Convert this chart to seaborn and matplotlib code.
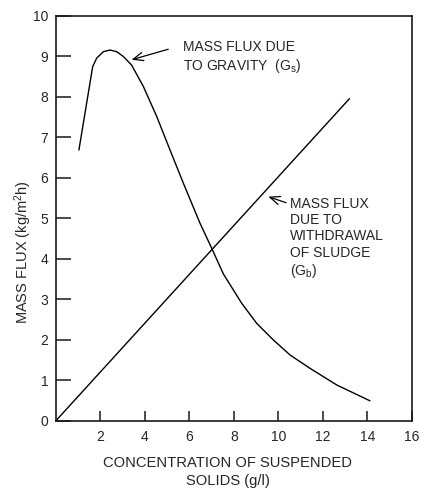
import matplotlib
matplotlib.use("Agg")
import matplotlib.pyplot as plt
import seaborn as sns
import pandas as pd

# Mass flux due to gravity, G_s (kg/m^2 h) vs solids concentration (g/l)
gravity_conc = [1.03, 1.65, 1.83, 2.13, 2.43, 2.73, 3.03, 3.40, 3.93, 4.53,
                5.13, 5.73, 6.48, 7.00, 7.53, 8.35, 9.03, 9.78, 10.53, 11.43,
                12.63, 14.12]
gravity_flux = [6.68, 8.74, 8.95, 9.11, 9.15, 9.11, 8.99, 8.78, 8.25, 7.51,
                6.68, 5.86, 4.87, 4.26, 3.62, 2.90, 2.40, 1.99, 1.62, 1.29,
                0.88, 0.49]

# Mass flux due to withdrawal of sludge, G_b
withdrawal_conc = [0.0, 13.2]
withdrawal_flux = [0.0, 7.95]

x_ticks = [2, 4, 6, 8, 10, 12, 14, 16]
y_ticks = [0, 1, 2, 3, 4, 5, 6, 7, 8, 9, 10]

sns.set_theme(style="ticks")
plt.rcParams["font.family"] = ["Liberation Sans", "DejaVu Sans"]
plt.rcParams["mathtext.fontset"] = "custom"
plt.rcParams["mathtext.rm"] = "Liberation Sans"
plt.rcParams["mathtext.it"] = "Liberation Sans"

text_color = "#262626"

fig = plt.figure(figsize=(4.21, 4.88), dpi=100)
ax = fig.add_axes([0.133, 0.138, 0.845, 0.830])

gravity = pd.DataFrame({"conc": gravity_conc, "flux": gravity_flux})
withdrawal = pd.DataFrame({"conc": withdrawal_conc, "flux": withdrawal_flux})

sns.lineplot(data=gravity, x="conc", y="flux", ax=ax, color="black",
             linewidth=1.0, sort=False)
sns.lineplot(data=withdrawal, x="conc", y="flux", ax=ax, color="black",
             linewidth=1.0, sort=False)

ax.set_xlim(0, 16)
ax.set_ylim(0, 10)
ax.set_xticks(x_ticks)
ax.set_yticks(y_ticks)
ax.set_xticklabels([str(v) for v in x_ticks])
ax.set_yticklabels([str(v) for v in y_ticks])

for side in ["left", "right", "top", "bottom"]:
    ax.spines[side].set_visible(True)
    ax.spines[side].set_linewidth(1.2)
    ax.spines[side].set_color("#1a1a1a")

ax.tick_params(axis="x", direction="in", length=7, width=1.1, pad=6.5,
               labelsize=10, colors="#1a1a1a", labelcolor=text_color)
ax.tick_params(axis="y", direction="in", length=11, width=1.1, pad=5.5,
               labelsize=10, colors="#1a1a1a", labelcolor=text_color)

ax.set_xlabel("CONCENTRATION OF SUSPENDED\nSOLIDS (g/l)", fontsize=10.6,
              color=text_color, linespacing=1.35)
ax.xaxis.set_label_coords(0.482, -0.126)
ax.xaxis.label.set_verticalalignment("center")

ax.set_ylabel(r"MASS FLUX (kg/m$^{2}$h)", fontsize=10.5, color=text_color)
ax.yaxis.set_label_coords(-0.093, 0.417)
ax.yaxis.label.set_verticalalignment("center")

arrow = dict(arrowstyle="->,head_length=0.6,head_width=0.25",
             color="black", linewidth=0.9, shrinkA=0, shrinkB=0)

ax.annotate("", xy=(3.40, 8.91), xytext=(5.05, 9.17), arrowprops=arrow)
ax.text(5.71, 9.40, "MASS FLUX DUE\nTO GRAVITY  (G$_{s}$)", fontsize=10,
        color=text_color, ha="left", va="top", linespacing=1.2)

ax.annotate("", xy=(9.55, 5.53), xytext=(10.35, 5.38), arrowprops=arrow)
ax.text(10.53, 5.52, "MASS FLUX\nDUE TO\nWITHDRAWAL\nOF SLUDGE\n(G$_{b}$)",
        fontsize=10, color=text_color, ha="left", va="top", linespacing=1.2)

fig.savefig("out.png", dpi=100)
